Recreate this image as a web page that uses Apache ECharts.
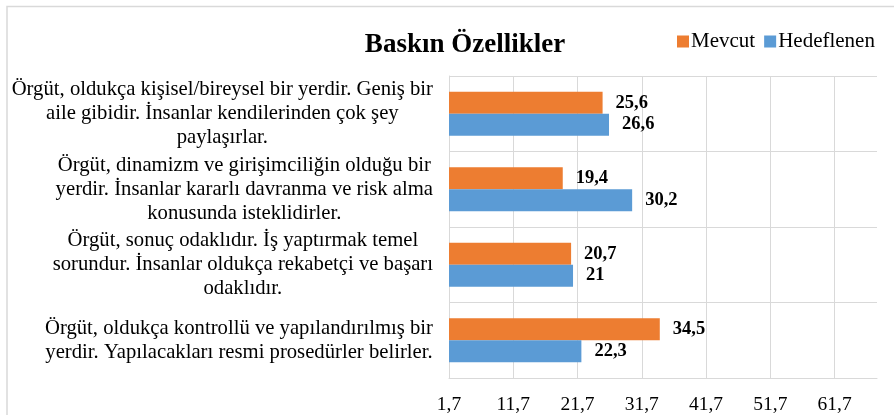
<!DOCTYPE html>
<html>
<head>
<meta charset="utf-8">
<script src="https://cdn.jsdelivr.net/npm/echarts@6/dist/echarts.min.js"></script>
<style>html,body{margin:0;padding:0;background:#fff}#c{width:894px;height:415px}</style>
</head>
<body>
<div id="c"></div>
<script>
const categories = [
  "Örgüt, oldukça kişisel/bireysel bir yerdir. Geniş bir\naile gibidir. İnsanlar kendilerinden çok şey\npaylaşırlar.",
  "Örgüt, dinamizm ve girişimciliğin olduğu bir\nyerdir. İnsanlar kararlı davranma ve risk alma\nkonusunda isteklidirler.",
  "Örgüt, sonuç odaklıdır. İş yaptırmak temel\nsorundur. İnsanlar oldukça rekabetçi ve başarı\nodaklıdır.",
  "Örgüt, oldukça kontrollü ve yapılandırılmış bir\nyerdir. Yapılacakları resmi prosedürler belirler."
];
const mevcut = [25.6, 19.4, 20.7, 34.5];
const hedeflenen = [26.6, 30.2, 21, 22.3];
const xTicks = [1.7, 11.7, 21.7, 31.7, 41.7, 51.7, 61.7];
const seriesNames = ["Mevcut", "Hedeflenen"];
const titleText = "Baskın Özellikler";

const serif = '"Liberation Serif", "Times New Roman", serif';
const fmt = v => String(v).replace('.', ',');

const chart = echarts.init(document.getElementById('c'));
chart.setOption({
  animation: false,
  backgroundColor: '#fff',
  color: ['#ED7D31', '#5B9BD5'],
  graphic: [{
    type: 'polyline', silent: true,
    shape: { points: [[7, 415], [7, 6.5], [894, 6.5]] },
    style: { stroke: '#d9d9d9', lineWidth: 1.5, fill: null }
  }],
  title: {
    text: titleText, left: 460, top: 27, textAlign: 'center',
    textStyle: { fontFamily: serif, fontSize: 27, fontWeight: 'bold', color: '#000' }
  },
  legend: {
    data: seriesNames, left: 672, top: 26, itemWidth: 12, itemHeight: 12, itemGap: 9,
    icon: 'rect',
    textStyle: { fontFamily: serif, fontSize: 21, color: '#000', padding: [0, 0, 0, -3] }
  },
  grid: { left: 449, right: 17, top: 76, bottom: 37, containLabel: false },
  xAxis: {
    type: 'value', min: 1.7, max: 68.3,
    axisLine: { show: true, lineStyle: { color: '#d9d9d9' } },
    axisTick: { show: false, customValues: xTicks },
    splitLine: { show: true, lineStyle: { color: '#d9d9d9' }, customValues: xTicks },
    axisLabel: {
      customValues: xTicks, margin: 17,
      formatter: v => v.toFixed(1).replace('.', ','),
      fontFamily: serif, fontSize: 19.5, color: '#000'
    }
  },
  yAxis: {
    type: 'category', data: categories, inverse: true,
    axisLine: { show: true, lineStyle: { color: '#d9d9d9' } },
    axisTick: { show: false },
    splitLine: { show: true, lineStyle: { color: '#d9d9d9' } },
    axisLabel: {
      margin: 16, align: 'right',
      formatter: v => v.split('\n').map(l => '{c|' + l + '}').join('\n'),
      rich: { c: { align: 'center', fontFamily: serif, fontSize: 20.7, lineHeight: 24, color: '#000' } }
    }
  },
  series: [
    { name: seriesNames[0], type: 'bar', data: mevcut, barGap: '0%', barCategoryGap: '42%',
      label: { show: true, position: 'right', distance: 13, formatter: p => fmt(p.value),
        fontFamily: serif, fontSize: 18.5, fontWeight: 'bold', color: '#000' } },
    { name: seriesNames[1], type: 'bar', data: hedeflenen, barGap: '0%', barCategoryGap: '42%',
      label: { show: true, position: 'right', distance: 13, formatter: p => fmt(p.value),
        fontFamily: serif, fontSize: 18.5, fontWeight: 'bold', color: '#000' } }
  ]
});
</script>
</body>
</html>
